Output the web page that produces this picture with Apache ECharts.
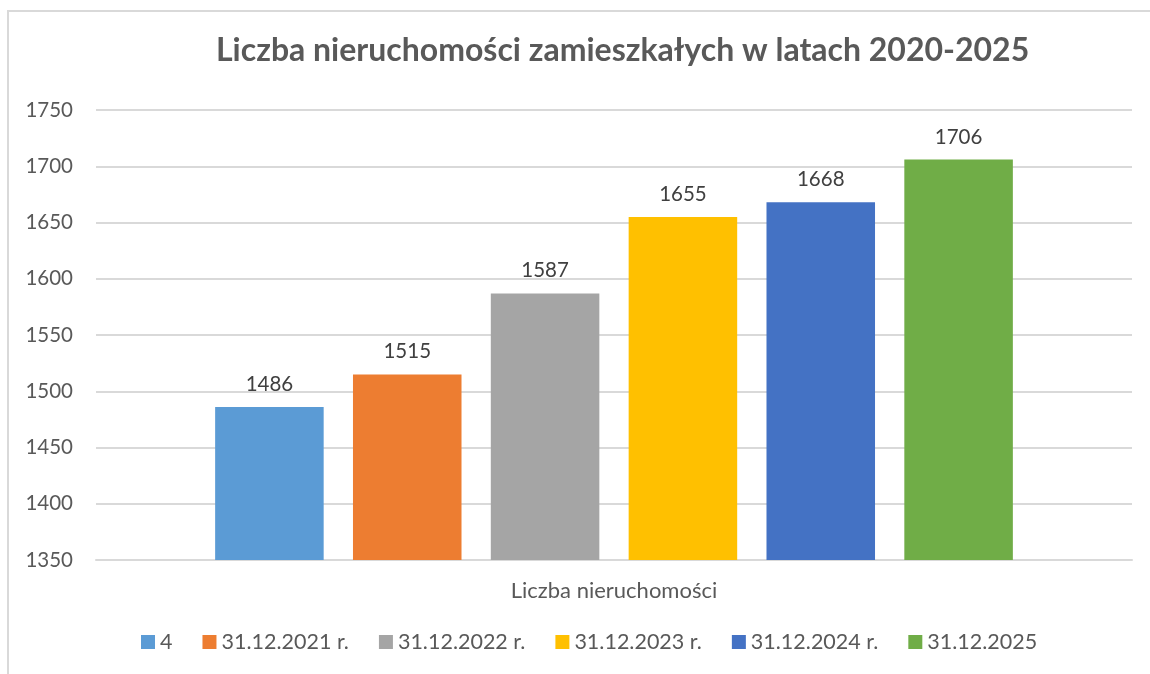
<!DOCTYPE html>
<html><head><meta charset="utf-8">
<script src="https://cdn.jsdelivr.net/npm/echarts@6/dist/echarts.min.js"></script>
<style>
html,body{margin:0;padding:0;background:#fff;}
#frame{position:absolute;left:7px;top:10px;width:1143px;height:664px;border-left:2px solid #d9d9d9;border-top:2px solid #d9d9d9;}
#c{position:absolute;left:0;top:0;width:1150px;height:674px;}
</style></head>
<body>
<div id="frame"></div>
<div id="c"></div>
<script>
const categories = ['Liczba nieruchomości'];
const seriesNames = ['4', '31.12.2021 r.', '31.12.2022 r.', '31.12.2023 r.', '31.12.2024 r.', '31.12.2025'];
const seriesValues = [1486, 1515, 1587, 1655, 1668, 1706];
const colors = ['#5b9bd5', '#ed7d31', '#a5a5a5', '#ffc000', '#4472c4', '#70ad47'];

const font = 'Lato, "Open Sans", sans-serif';
const chart = echarts.init(document.getElementById('c'));
chart.setOption({
  animation: false,
  title: {
    text: 'Liczba nieruchomości zamieszkałych w latach 2020-2025',
    left: 211, top: 30,
    textStyle: {fontFamily: font, fontSize: 32, fontWeight: 'bold', color: '#595959'}
  },
  legend: {
    bottom: 16, left: 136,
    itemWidth: 14, itemHeight: 14, itemGap: 30,
    icon: 'rect',
    textStyle: {fontFamily: font, fontSize: 21.5, color: '#595959'},
    data: seriesNames
  },
  grid: {left: 96, right: 18, top: 110, bottom: 114},
  xAxis: {
    type: 'category', data: categories,
    axisLine: {lineStyle: {color: '#d9d9d9', width: 2}},
    axisTick: {show: false},
    axisLabel: {fontFamily: font, fontSize: 22, color: '#595959', margin: 20}
  },
  yAxis: {
    type: 'value', min: 1350, max: 1750, interval: 50,
    axisLine: {show: false}, axisTick: {show: false},
    splitLine: {lineStyle: {color: '#d9d9d9', width: 2}},
    axisLabel: {fontFamily: font, fontSize: 20.5, color: '#595959', margin: 23, formatter: v => String(v)}
  },
  series: seriesNames.map((n, i) => ({
    name: n, type: 'bar',
    data: [seriesValues[i]],
    itemStyle: {color: colors[i]},
    barCategoryGap: '23%', barGap: '27%',
    label: {show: true, position: 'top', distance: 12, fontFamily: font, fontSize: 20.5, color: '#404040'}
  }))
});
</script>
</body></html>
